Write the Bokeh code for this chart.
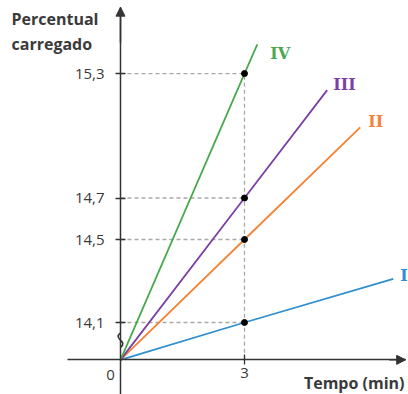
from bokeh.plotting import figure
from bokeh.models import (LinearAxis, FixedTicker, Arrow, NormalHead, Label,
                          ColumnDataSource, Range1d)
from bokeh.core.properties import value
from bokeh.embed import file_html
from bokeh.resources import INLINE

# ---- data ----
series_names = ["I", "II", "III", "IV"]
at_3min = [14.1, 14.5, 14.7, 15.3]          # percent charged after 3 min
line_end_x = [6.6, 5.8, 5.0, 3.31]          # where each drawn line stops (min)
line_end_y = [14.31, 15.04, 15.22, 15.44]   # percent at that end
origin_y = 13.92                            # axis break: drawn origin level
x_ticks = [3]
y_ticks = [14.1, 14.5, 14.7, 15.3]
y_tick_labels = ["14,1", "14,5", "14,7", "15,3"]

colors = ["#2f8fcf", "#f58235", "#7b3fa6", "#4aa84e"]
FONT = "Open Sans"
TXT = "#3a3a3a"

p = figure(width=408, height=394, output_backend="svg", toolbar_location=None,
           x_axis_location=None, y_axis_location=None,
           x_range=Range1d(-2.903, 6.968), y_range=Range1d(13.753, 15.652),
           min_border=0, outline_line_color=None)
p.xgrid.visible = False
p.ygrid.visible = False

# dashed guides
for v in at_3min:
    p.line([0, 3], [v, v], line_color="#a8a8a8", line_dash="4 3", line_width=1.3)
p.line([3, 3], [origin_y, max(at_3min)], line_color="#a8a8a8", line_dash="4 3", line_width=1.3)

# axes
ax_col = "#333333"
yax = LinearAxis(fixed_location=0, ticker=FixedTicker(ticks=y_ticks),
                 bounds=(13.753, 15.62))
yax.major_label_overrides = {t: l for t, l in zip(y_ticks, y_tick_labels)}
yax.axis_line_color = ax_col
yax.axis_line_width = 1.5
yax.major_tick_line_color = ax_col
yax.major_tick_line_width = 1.3
yax.major_tick_in = 5
yax.major_tick_out = 5
yax.minor_tick_line_color = None
yax.major_label_standoff = 11
yax.major_label_text_font = FONT
yax.major_label_text_font_size = "15px"
yax.major_label_text_color = TXT
p.add_layout(yax, "left")

xax = LinearAxis(fixed_location=origin_y, ticker=FixedTicker(ticks=x_ticks),
                 bounds=(-1.28, 6.9))
xax.axis_line_color = ax_col
xax.axis_line_width = 1.5
xax.major_tick_line_color = ax_col
xax.major_tick_line_width = 1.3
xax.major_tick_in = 5
xax.major_tick_out = 5
xax.minor_tick_line_color = None
xax.major_label_standoff = 3
xax.major_label_text_font = FONT
xax.major_label_text_font_size = "15px"
xax.major_label_text_color = TXT
p.add_layout(xax, "below")

# axis arrow heads
p.add_layout(Arrow(end=NormalHead(size=9, fill_color=ax_col, line_color=ax_col),
                   x_start=0, y_start=15.45, x_end=0, y_end=15.62,
                   line_color=ax_col, line_width=1.5))
p.add_layout(Arrow(end=NormalHead(size=9, fill_color=ax_col, line_color=ax_col),
                   x_start=6.5, y_start=origin_y, x_end=6.9, y_end=origin_y,
                   line_color=ax_col, line_width=1.5))

# axis break mark
p.quad(left=-0.08, right=0.08, bottom=13.98, top=14.05, fill_color="white", line_color=None)
p.bezier(x0=[0], y0=[14.05], x1=[0], y1=[13.98], cx0=[-0.2], cy0=[14.02],
         cx1=[0.2], cy1=[14.01], line_color=ax_col, line_width=1.5)

# lines
offx = [7, 8, 6, 13]
offy = [-3, -6, -6, 9]
for i, name in enumerate(series_names):
    p.line([0, 3, line_end_x[i]], [origin_y, at_3min[i], line_end_y[i]],
           line_color=colors[i], line_width=1.8)

p.scatter([3] * len(at_3min), at_3min, size=6, color="black")

lab = ColumnDataSource(dict(x=line_end_x, y=line_end_y, t=series_names,
                            c=colors, ox=offx, oy=offy))
p.text(x="x", y="y", text="t", text_color="c", x_offset="ox", y_offset="oy",
       source=lab, text_font=value("DejaVu Serif"), text_font_style="bold",
       text_font_size="16px", text_align="left", text_baseline="middle")

# texts
p.add_layout(Label(x=11, y=376, x_units="screen", y_units="screen", text="Percentual",
                   text_font=FONT, text_font_style="bold", text_font_size="16px",
                   text_color=TXT, text_baseline="middle"))
p.add_layout(Label(x=11, y=351, x_units="screen", y_units="screen", text="carregado",
                   text_font=FONT, text_font_style="bold", text_font_size="16px",
                   text_color=TXT, text_baseline="middle"))
p.add_layout(Label(x=404, y=12, x_units="screen", y_units="screen", text="Tempo (min)",
                   text_font=FONT, text_font_style="bold", text_font_size="16px",
                   text_color=TXT, text_baseline="middle", text_align="right"))
p.add_layout(Label(x=0, y=origin_y, x_offset=-10, y_offset=-15, text="0",
                   text_font=FONT, text_font_size="15px", text_color=TXT,
                   text_baseline="middle", text_align="center"))

open("out.html", "w").write(file_html(p, INLINE))
